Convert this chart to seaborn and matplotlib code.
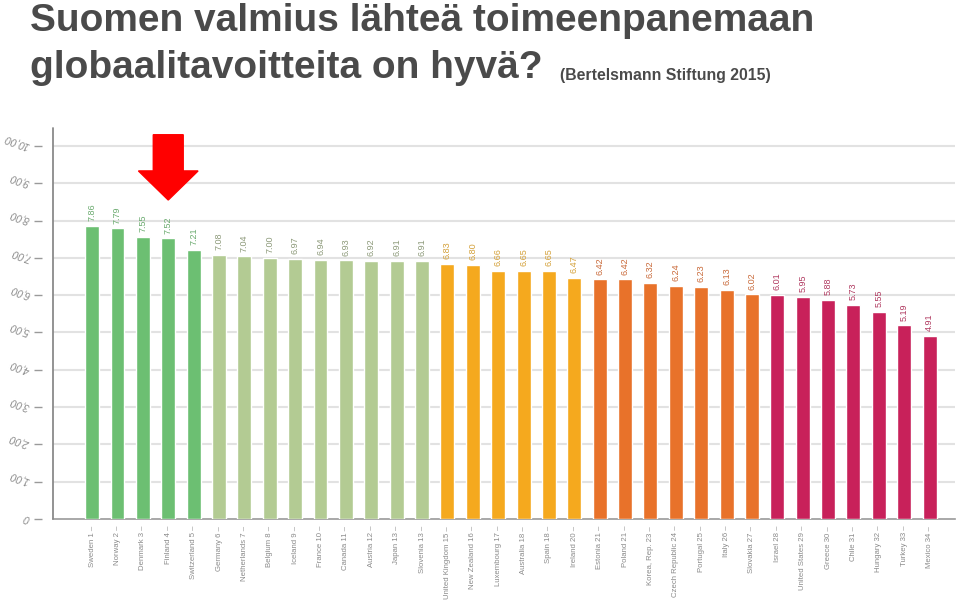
import matplotlib
matplotlib.use("Agg")
import matplotlib.pyplot as plt
import seaborn as sns
import pandas as pd
from matplotlib.patches import FancyArrow

countries = ["Sweden", "Norway", "Denmark", "Finland", "Switzerland", "Germany",
             "Netherlands", "Belgium", "Iceland", "France", "Canada", "Austria",
             "Japan", "Slovenia", "United Kingdom", "New Zealand", "Luxembourg",
             "Australia", "Spain", "Ireland", "Estonia", "Poland", "Korea, Rep.",
             "Czech Republic", "Portugal", "Italy", "Slovakia", "Israel",
             "United States", "Greece", "Chile", "Hungary", "Turkey", "Mexico"]
ranks = [1, 2, 3, 4, 5, 6, 7, 8, 9, 10, 11, 12, 13, 13, 15, 16, 17, 18, 18, 20,
         21, 21, 23, 24, 25, 26, 27, 28, 29, 30, 31, 32, 33, 34]
scores = [7.86, 7.79, 7.55, 7.52, 7.21, 7.08, 7.04, 7.00, 6.97, 6.94, 6.93, 6.92,
          6.91, 6.91, 6.83, 6.80, 6.66, 6.65, 6.65, 6.47, 6.42, 6.42, 6.32, 6.24,
          6.23, 6.13, 6.02, 6.01, 5.95, 5.88, 5.73, 5.55, 5.19, 4.91]
groups = ["g1"] * 5 + ["g2"] * 9 + ["g3"] * 6 + ["g4"] * 7 + ["g5"] * 7
yticks = [0, 1, 2, 3, 4, 5, 6, 7, 8, 9, 10]
ytick_labels = ["0", "1,00", "2,00", "3,00", "4,00", "5,00", "6,00", "7,00",
                "8,00", "9,00", "10,00"]
highlight = "Finland"

bar_colors = {"g1": "#6cbf72", "g2": "#b3cb93", "g3": "#f5a91e",
              "g4": "#e8722a", "g5": "#c8215a"}
text_colors = {"g1": "#6aaa6e", "g2": "#8d9a7a", "g3": "#d4a13a",
               "g4": "#c96a3a", "g5": "#b03a60"}

labels = [f"{c} {r} \u2013" for c, r in zip(countries, ranks)]
df = pd.DataFrame({"label": labels, "score": scores, "group": groups})

sns.set_style("white")
small = ["Liberation Sans", "DejaVu Sans"]

fig = plt.figure(figsize=(9.59, 6.01), dpi=100)
ax = fig.add_axes([0.0553, 0.1364, 0.9405, 0.6506])

sns.barplot(data=df, x="label", y="score", hue="group", palette=bar_colors,
            order=labels, dodge=False, width=0.55, legend=False, ax=ax,
            saturation=1, zorder=3)

# spines first (set_position resets ticks)
for s in ["top", "right"]:
    ax.spines[s].set_visible(False)
ax.spines["left"].set_position(("outward", 8))
ax.spines["left"].set_visible(False)
ax.spines["bottom"].set_color("#9a9a9a")
ax.spines["bottom"].set_linewidth(1.2)

ax.set_ylim(0, 10.48)
ax.set_xlim(-1.54, 34.0)
ax.axvline(-1.54, color="#8a8a8a", lw=1.3, zorder=4, clip_on=False)

ax.set_yticks(yticks)
ax.set_yticklabels(ytick_labels)
ax.tick_params(axis="y", left=True, direction="out", length=6, width=1,
               color="#9a9a9a", pad=3)
for t in ax.get_yticklabels():
    t.set_rotation(160)
    t.set_rotation_mode("anchor")
    t.set_ha("left")
    t.set_va("center")
    t.set_fontsize(7.5)
    t.set_style("italic")
    t.set_color("#8a8a8a")
    t.set_family(small)
ax.tick_params(axis="x", bottom=False, length=0, pad=5)
for t in ax.get_xticklabels():
    t.set_rotation(90)
    t.set_fontsize(5.6)
    t.set_color("#8a8a8a")
    t.set_family(small)
    t.set_ha("center")
    t.set_va("top")
ax.set_xlabel("")
ax.set_ylabel("")

for y in yticks[1:]:
    ax.axhline(y, color="#e2e2e2", lw=1.5, zorder=1)

for i, (v, g) in enumerate(zip(scores, groups)):
    ax.text(i, v + 0.13, f"{v:.2f}", rotation=90, ha="center", va="bottom",
            fontsize=6.5, color=text_colors[g], family=small, zorder=5)

hi = countries.index(highlight)
arrow = FancyArrow(hi, 10.3, 0, -1.75, width=1.18, head_width=2.35,
                   head_length=0.78, length_includes_head=True,
                   color="#ff0000", zorder=6, clip_on=False)
ax.add_patch(arrow)

title_kw = dict(family=["Liberation Sans", "DejaVu Sans"], weight="bold",
                color="#4a4a4a")
fig.text(0.031, 0.949, "Suomen valmius lähteä toimeenpanemaan", fontsize=28,
         va="baseline", ha="left", **title_kw)
fig.text(0.031, 0.870, "globaalitavoitteita on hyvä?", fontsize=28,
         va="baseline", ha="left", **title_kw)
fig.text(0.584, 0.867, "(Bertelsmann Stiftung 2015)", fontsize=11.4,
         va="baseline", ha="left", **title_kw)

fig.savefig("out.png", dpi=100, facecolor="white")
